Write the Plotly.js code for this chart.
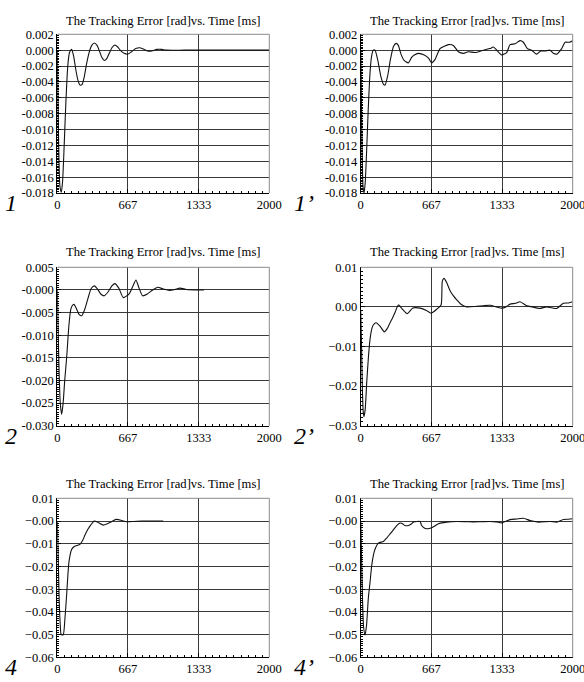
<!DOCTYPE html>
<html>
<head>
<meta charset="utf-8">
<script src="https://cdn.plot.ly/plotly-3.0.1.min.js"></script>
<style>html,body{margin:0;padding:0;background:#fff;}#plot{width:584px;height:682px;}</style>
</head>
<body>
<div id="plot"></div>
<script>
// ---------- data (time in ms, tracking error in rad) ----------
const t1 = [0,8,16,25,38,50,62,75,88,100,115,135,155,175,195,215,235,255,275,300,325,350,375,400,420,443,465,490,515,544,570,600,630,664,700,740,780,820,850,890,940,985,1030,1200,1500,1800,2000];
const e1 = [0,-0.008,-0.014,-0.0172,-0.0179,-0.0165,-0.013,-0.0085,-0.0045,-0.0018,-0.0003,0.0001,-0.0008,-0.0025,-0.0038,-0.0044,-0.0043,-0.0033,-0.0018,-0.0003,0.0006,0.0009,0.0006,-0.0002,-0.0009,-0.0013,-0.0011,-0.0004,0.0003,0.00065,0.0004,-0.0001,-0.0004,-0.0005,-0.0002,0.0002,0.0003,0.0001,-0.0001,-0.0001,0.0001,0.0001,0,0,0,0,0];

const t1p = [0,6,14,22,31,42,55,70,85,100,118,135,160,190,215,230,255,280,310,335,355,380,410,450,480,506,544,600,640,670,700,748,790,827,874,921,969,1016,1079,1157,1220,1252,1283,1330,1377,1409,1456,1503,1535,1572,1613,1660,1698,1739,1786,1818,1849,1896,1928,1969,2000];
const e1p = [0,-0.006,-0.013,-0.0172,-0.018,-0.0168,-0.013,-0.0078,-0.0035,-0.001,0,0.0,-0.0012,-0.0033,-0.0043,-0.0044,-0.0032,-0.0012,0.0005,0.00086,0.0006,-0.0005,-0.0013,-0.0016,-0.0009,-0.0006,-0.0004,-0.0006,-0.001,-0.0016,-0.0012,0.0002,0.0005,0.0007,0.0006,-0.0002,-0.0004,-0.0002,-0.0003,0.0,0.0002,0.0004,0.0,-0.0006,-0.0003,0.0007,0.0008,0.0012,0.001,0.0002,0.0,-0.0005,-0.0001,-0.0001,0,-0.0004,-0.0005,0.0002,0.001,0.001,0.0012];

const t2 = [0,8,18,28,41,55,70,88,110,126,140,157,180,205,230,260,290,320,349,380,410,443,480,515,544,580,623,680,720,742,770,805,850,900,947,1000,1057,1110,1157,1220,1300,1384];
const e2 = [0,-0.009,-0.019,-0.025,-0.0275,-0.025,-0.02,-0.015,-0.0077,-0.0044,-0.0035,-0.0032,-0.0041,-0.0054,-0.0057,-0.0042,-0.0018,0.0003,0.0009,0.0002,-0.0009,-0.0013,-0.0004,0.0009,0.0014,0.0004,-0.0017,-0.0008,0.0012,0.0022,0.0005,-0.0013,-0.0009,0.0000,0.0006,0.0002,-0.0001,0.0001,0.0004,0.0001,0.0,0.0];

const t2p = [0,8,16,24,31,42,57,72,88,104,120,145,180,223,250,277,300,324,355,395,440,491,560,620,664,717,758,770,786,810,843,875,906,940,969,1000,1080,1157,1220,1280,1330,1370,1409,1460,1503,1566,1620,1686,1755,1800,1849,1912,1960,2000];
const e2p = [-0.001,-0.01,-0.021,-0.0265,-0.0277,-0.026,-0.019,-0.013,-0.0082,-0.0056,-0.0045,-0.004,-0.0048,-0.0063,-0.0055,-0.004,-0.0028,-0.0014,0.0005,-0.0006,-0.0017,-0.0003,-0.0003,-0.0009,-0.0016,-0.0006,0.0005,0.0065,0.0072,0.0062,0.0041,0.0028,0.0018,0.0008,0.0003,0.0,0.0001,0.0003,0.0004,0.0,-0.0003,0.0,0.0007,0.0009,0.0013,0.0003,0.0,-0.0004,0.0,-0.0002,-0.0004,0.0009,0.0010,0.0013];

const t4 = [0,8,18,28,35,45,57,72,88,110,135,157,185,214,240,261,290,315,349,390,434,490,530,560,610,654,720,800,900,1000];
const e4 = [0,-0.015,-0.035,-0.046,-0.0498,-0.0502,-0.05,-0.043,-0.0326,-0.018,-0.0125,-0.0113,-0.0108,-0.0103,-0.0085,-0.0062,-0.0035,-0.0018,0.0,-0.0008,-0.0018,-0.0008,0.0002,0.0007,0.0002,-0.0003,-0.0002,0.0,0.0,0.0];

const t4p = [0,8,18,28,41,55,72,88,104,120,135,167,214,245,277,310,340,371,395,418,450,480,497,530,560,575,600,623,670,700,733,811,906,1000,1063,1140,1220,1280,1330,1409,1470,1535,1598,1676,1786,1849,1912,1960,2000];
const e4p = [0,-0.016,-0.036,-0.047,-0.0502,-0.046,-0.034,-0.027,-0.0196,-0.015,-0.0124,-0.0097,-0.009,-0.0075,-0.0057,-0.0038,-0.002,-0.0009,-0.0012,-0.002,-0.002,-0.0012,-0.0005,-0.0002,-0.0002,-0.002,-0.0031,-0.0034,-0.003,-0.0022,-0.0012,-0.0005,-0.0002,-0.0003,-0.0004,-0.0003,-0.0002,-0.0004,-0.0008,0.0006,0.0009,0.0012,0.0002,-0.0005,-0.0002,-0.0005,0.0007,0.0008,0.001];

const xTickVals = [0, 666.667, 1333.333, 2000];
const xTickText = ['0', '667', '1333', '2000'];

const yVals1 = [0.002,0,-0.002,-0.004,-0.006,-0.008,-0.010,-0.012,-0.014,-0.016,-0.018];
const yText1 = ['0.002','0.000','-0.002','-0.004','-0.006','-0.008','-0.010','-0.012','-0.014','-0.016','-0.018'];
const yVals2 = [0.005,0,-0.005,-0.010,-0.015,-0.020,-0.025,-0.030];
const yText2 = ['0.005','-0.000','-0.005','-0.010','-0.015','-0.020','-0.025','-0.030'];
const yVals2p = [0.01,0,-0.01,-0.02,-0.03];
const yText2p = ['0.01','0.00','\u22120.01','\u22120.02','\u22120.03'];
const yVals4 = [0.01,0,-0.01,-0.02,-0.03,-0.04,-0.05,-0.06];
const yText4 = ['0.01','\u22120.00','\u22120.01','\u22120.02','\u22120.03','\u22120.04','\u22120.05','\u22120.06'];

const titleText = 'The Tracking Error [rad]vs. Time [ms]';
const panelLabels = ['1', '1\u2019', '2', '2\u2019', '4', '4\u2019'];

// ---------- layout ----------
const W = 584, H = 682;
const FONT = '"Liberation Serif", "Times New Roman", serif';
const colX = [[57.3, 269.3], [360.7, 572.7]];
const rowY = [[34.3, 193.0], [267.3, 425.7], [498.3, 657.3]];
const titleY = [20.7, 251.7, 484.3];

const panels = [
  {t: t1, e: e1, yv: yVals1, yt: yText1, r: [-0.018, 0.002], minor: 0.0002},
  {t: t1p, e: e1p, yv: yVals1, yt: yText1, r: [-0.018, 0.002], minor: 0.0002},
  {t: t2, e: e2, yv: yVals2, yt: yText2, r: [-0.030, 0.005], minor: 0.0005},
  {t: t2p, e: e2p, yv: yVals2p, yt: yText2p, r: [-0.03, 0.01], minor: 0.001},
  {t: t4, e: e4, yv: yVals4, yt: yText4, r: [-0.06, 0.01], minor: 0.001},
  {t: t4p, e: e4p, yv: yVals4, yt: yText4, r: [-0.06, 0.01], minor: 0.001}
];

const data = [];
const layout = {
  width: W, height: H,
  margin: {l: 0, r: 0, t: 0, b: 0},
  paper_bgcolor: '#fff', plot_bgcolor: '#fff',
  showlegend: false,
  font: {family: FONT, size: 12, color: '#000'},
  annotations: [], shapes: []
};

panels.forEach((p, i) => {
  const row = Math.floor(i / 2), col = i % 2;
  const sx = i === 0 ? '' : String(i + 1);
  const xa = 'x' + sx, ya = 'y' + sx;
  data.push({
    x: p.t, y: p.e, xaxis: xa, yaxis: ya,
    type: 'scatter', mode: 'lines',
    line: {color: '#111', width: 1.1, shape: 'spline', smoothing: 0.6},
    hoverinfo: 'skip'
  });
  const cx = colX[col], ry = rowY[row];
  layout['xaxis' + sx] = {
    domain: [cx[0] / W, cx[1] / W],
    anchor: ya, range: [0, 2000],
    tickmode: 'array', tickvals: xTickVals, ticktext: xTickText,
    ticklabeloverflow: 'allow',
    showgrid: true, gridcolor: '#3a3a3a', gridwidth: 1,
    zeroline: false, showline: true, linecolor: '#000', linewidth: 1,
    ticks: 'inside', ticklen: 4, tickcolor: '#000',
    minor: {tickmode: 'linear', tick0: 0, dtick: 2000 / 30, ticks: 'inside', ticklen: 2, tickcolor: '#000', showgrid: false},
    tickfont: {family: FONT, size: 12.5, color: '#000'},
    fixedrange: true
  };
  layout['yaxis' + sx] = {
    domain: [1 - ry[1] / H, 1 - ry[0] / H],
    anchor: xa, range: p.r,
    tickmode: 'array', tickvals: p.yv, ticktext: p.yt,
    ticklabeloverflow: 'allow',
    showgrid: true, gridcolor: '#3a3a3a', gridwidth: 1,
    zeroline: false, showline: true, linecolor: '#000', linewidth: 1,
    ticks: 'inside', ticklen: 4, tickcolor: '#000',
    minor: {tickmode: 'linear', tick0: 0, dtick: p.minor, ticks: 'inside', ticklen: 2, tickcolor: '#000', showgrid: false},
    tickfont: {family: FONT, size: 12.5, color: '#000'},
    fixedrange: true
  };
  // gray right and top frame
  layout.shapes.push({type: 'line', xref: xa + ' domain', yref: ya + ' domain', x0: 1, x1: 1, y0: 0, y1: 1, line: {color: '#8a8a8a', width: 1}});
  layout.shapes.push({type: 'line', xref: xa + ' domain', yref: ya + ' domain', x0: 0, x1: 1, y0: 1, y1: 1, line: {color: '#8a8a8a', width: 1}});
  // title
  layout.annotations.push({
    text: titleText, xref: 'paper', yref: 'paper',
    x: (cx[0] + cx[1]) / 2 / W, y: 1 - titleY[row] / H,
    xanchor: 'center', yanchor: 'middle', showarrow: false,
    font: {family: FONT, size: 12.6, color: '#000'}
  });
  // panel label
  layout.annotations.push({
    text: '<i>' + panelLabels[i] + '</i>', xref: 'paper', yref: 'paper',
    x: (col === 0 ? 3 : 292) / W, y: 1 - (ry[1] + 10) / H,
    xanchor: 'left', yanchor: 'middle', showarrow: false,
    font: {family: FONT, size: 24, color: '#000'}
  });
});

Plotly.newPlot('plot', data, layout, {displayModeBar: false, staticPlot: true});
</script>
</body>
</html>
